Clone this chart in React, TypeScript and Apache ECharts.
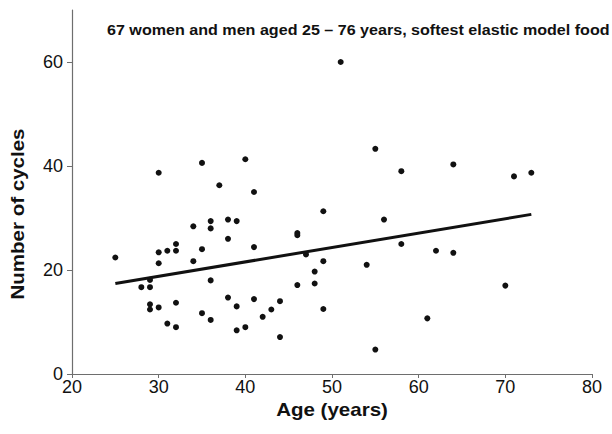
import React, { useEffect, useRef } from "react";
import * as echarts from "echarts";

const ages = [25, 28, 29, 29, 29, 29, 30, 30, 30, 30, 31, 31, 32, 32, 32, 32, 34, 34, 35, 35, 35, 36, 36, 36, 36, 37, 38, 38, 38, 39, 39, 39, 40, 40, 41, 41, 41, 42, 43, 44, 44, 46, 46, 46, 47, 48, 48, 49, 49, 49, 51, 54, 55, 55, 56, 58, 58, 61, 62, 64, 64, 70, 71, 73];
const cycles = [22.4, 16.7, 16.7, 18.1, 13.4, 12.4, 38.7, 23.4, 21.3, 12.8, 23.7, 9.7, 25.0, 23.7, 13.7, 9.0, 28.4, 21.7, 40.6, 24.0, 11.7, 29.4, 28.0, 18.0, 10.4, 36.3, 29.7, 26.0, 14.7, 29.4, 13.0, 8.4, 41.3, 9.0, 35.0, 24.4, 14.4, 11.0, 12.4, 14.0, 7.1, 27.1, 26.7, 17.1, 23.0, 19.7, 17.4, 31.3, 21.7, 12.5, 60.0, 21.0, 43.3, 4.7, 29.7, 39.0, 25.0, 10.7, 23.7, 40.3, 23.3, 17.0, 38.0, 38.7];
const fitAges = [25, 73];
const fitCycles = [17.4, 30.7];
const yTicks = [0, 20, 40, 60];
const titleText = "67 women and men aged 25 – 76 years, softest elastic model food";
const xName = "Age (years)";
const yName = "Number of cycles";

const FONT = "'Liberation Sans', Arial, Helvetica, sans-serif";

export default function App() {
  const ref = useRef<HTMLDivElement>(null);
  useEffect(() => {
    if (!ref.current) return;
    const chart = echarts.init(ref.current, null, { renderer: "svg" });
    const axisColor = "#6e6e6e";
    chart.setOption({
      animation: false,
      backgroundColor: "#ffffff",
      textStyle: { fontFamily: FONT },
      grid: { left: 72, right: 20, top: 10, bottom: 60, containLabel: false },
      xAxis: {
        type: "value",
        min: 20,
        max: 80,
        interval: 10,
        splitLine: { show: false },
        axisLine: { lineStyle: { color: axisColor, width: 1.2 } },
        axisTick: { length: 4, lineStyle: { color: axisColor } },
        axisLabel: { color: "#111", fontSize: 18, fontFamily: FONT, margin: 4 },
      },
      yAxis: {
        type: "value",
        min: 0,
        max: 70,
        interval: 10,
        splitLine: { show: false },
        axisLine: { show: true, lineStyle: { color: axisColor, width: 1.2 } },
        axisTick: { show: true, length: 5, customValues: yTicks, lineStyle: { color: axisColor } },
        axisLabel: { color: "#111", fontSize: 18, fontFamily: FONT, margin: 9, customValues: yTicks },
      },
      graphic: [
        {
          type: "text",
          x: 107,
          y: 30,
          scaleX: 1.15,
          style: { text: titleText, font: `bold 14px ${FONT}`, fill: "#111", align: "left", verticalAlign: "middle" },
        },
        {
          type: "text",
          x: 332,
          y: 410,
          scaleX: 1.14,
          style: { text: xName, font: `bold 18px ${FONT}`, fill: "#111", align: "center", verticalAlign: "middle" },
        },
        {
          type: "text",
          x: 18,
          y: 214,
          rotation: Math.PI / 2,
          scaleX: 1.14,
          style: { text: yName, font: `bold 18px ${FONT}`, fill: "#111", align: "center", verticalAlign: "middle" },
        },
      ],
      series: [
        {
          type: "scatter",
          data: ages.map((a, i) => [a, cycles[i]]),
          symbolSize: 6,
          itemStyle: { color: "#111", opacity: 1 },
          z: 3,
        },
        {
          type: "line",
          data: fitAges.map((a, i) => [a, fitCycles[i]]),
          showSymbol: false,
          lineStyle: { color: "#111", width: 3 },
          z: 2,
        },
      ],
    });
    return () => chart.dispose();
  }, []);
  return <div ref={ref} style={{ width: 612, height: 434, position: "absolute", left: 0, top: 0 }} />;
}
